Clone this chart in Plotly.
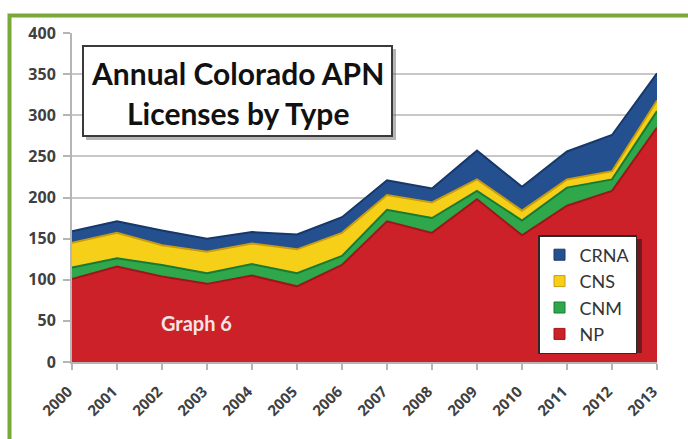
import plotly.graph_objects as go

# ---- data ----
years = list(range(2000, 2014))
np_vals = [101, 116, 104, 95, 105, 92, 118, 171, 157, 198, 154, 190, 208, 285]
cnm_vals = [14, 10, 14, 13, 14, 16, 11, 14, 18, 10, 18, 22, 14, 20]
cns_vals = [30, 31, 24, 26, 25, 29, 28, 18, 19, 14, 12, 10, 10, 13]
crna_vals = [14, 14, 18, 16, 14, 18, 19, 18, 17, 35, 29, 34, 44, 33]
series_names = ["NP", "CNM", "CNS", "CRNA"]
y_ticks = [0, 50, 100, 150, 200, 250, 300, 350, 400]
title_lines = ["Annual Colorado APN", "Licenses by Type"]
label_text = "Graph 6"

# ---- styles ----
fill_colors = ["#cc2129", "#2ea84a", "#f6d018", "#25508f"]
edge_colors = ["#9e151c", "#1a7a33", "#c89c10", "#16386a"]
legend_ranks = [4, 3, 2, 1]

W, H = 688, 439
L, R, T, B = 72, 31, 33, 77
pw, ph = W - L - R, H - T - B


def px(x):
    return (x - L) / pw


def py(y):
    return (H - B - y) / ph


fig = go.Figure()
series = [np_vals, cnm_vals, cns_vals, crna_vals]
for name, vals, fc, ec in zip(series_names, series, fill_colors, edge_colors):
    fig.add_trace(go.Scatter(
        x=years, y=vals, name=name, stackgroup="one", mode="lines",
        line=dict(color=ec, width=2), fillcolor=fc, showlegend=False,
        hoverinfo="x+y+name"))

# legend-only square markers
for name, fc, ec, rk in zip(series_names, fill_colors, edge_colors, legend_ranks):
    fig.add_trace(go.Scatter(
        x=[None], y=[None], name=name, mode="markers",
        marker=dict(symbol="square", size=11, color=fc, line=dict(color=ec, width=1)),
        legendgroup=name, legendrank=rk, showlegend=True))

shapes = []
# green frame
shapes.append(dict(type="rect", xref="paper", yref="paper",
                   x0=px(9.5), x1=px(720), y0=py(15.5), y1=py(470),
                   line=dict(color="#7aa93a", width=4), fillcolor="rgba(0,0,0,0)",
                   layer="above"))
# title box shadow + box
shapes.append(dict(type="rect", xref="paper", yref="paper",
                   x0=px(86), x1=px(396), y0=py(140), y1=py(49),
                   line=dict(width=0), fillcolor="rgba(90,90,90,0.45)", layer="above"))
shapes.append(dict(type="rect", xref="paper", yref="paper",
                   x0=px(83), x1=px(392), y0=py(136), y1=py(46),
                   line=dict(color="#3a3a3a", width=2), fillcolor="white", layer="above"))
# legend shadow
shapes.append(dict(type="rect", xref="paper", yref="paper",
                   x0=px(542), x1=px(642), y0=py(353), y1=py(239),
                   line=dict(width=0), fillcolor="rgba(40,20,20,0.55)", layer="above"))

annotations = []
for i, t in enumerate(title_lines):
    annotations.append(dict(text="<b>" + t + "</b>", xref="paper", yref="paper",
                            x=px(237.5), y=py(73 + 40 * i), showarrow=False,
                            xanchor="center", yanchor="middle",
                            font=dict(family="Lato", size=30, color="#111111")))
annotations.append(dict(text="<b>" + label_text + "</b>", xref="paper", yref="paper",
                        x=px(159), y=py(323), showarrow=False,
                        xanchor="left", yanchor="middle",
                        font=dict(family="Lato", size=20, color="#f6e4e4")))

fig.update_layout(
    width=W, height=H,
    margin=dict(l=L, r=R, t=T, b=B, pad=0),
    paper_bgcolor="white", plot_bgcolor="white",
    shapes=shapes, annotations=annotations,
    showlegend=True,
    legend=dict(x=px(538), y=py(235), xanchor="left", yanchor="top",
                bgcolor="white", bordercolor="#2a2a2a", borderwidth=1.5,
                font=dict(family="Lato", size=18, color="#333333"),
                traceorder="grouped", tracegroupgap=0, itemwidth=30),
    xaxis=dict(range=[2000, 2013], tickvals=years, ticktext=[str(y) for y in years],
               tickangle=-45, showgrid=False, zeroline=False,
               showline=True, linecolor="#b5b5b5", linewidth=2,
               ticks="outside", ticklen=6, tickcolor="#b5b5b5", tickwidth=2,
               ticklabelstandoff=7, ticklabelshift=-4,
               tickfont=dict(family="Open Sans", size=15, color="#404040", weight="bold")),
    yaxis=dict(range=[0, 400], tickvals=y_ticks, showgrid=True, gridcolor="#c8c8c8",
               gridwidth=2, zeroline=False, showline=True, linecolor="#b5b5b5",
               linewidth=2, ticks="outside", ticklen=7, tickcolor="#b5b5b5", tickwidth=2,
               ticklabelstandoff=4,
               tickfont=dict(family="Open Sans", size=16, color="#404040", weight="bold")),
)

fig.write_html("out.html", config={"displayModeBar": False},
               post_script="document.body.style.margin='0';document.body.style.padding='0';")
